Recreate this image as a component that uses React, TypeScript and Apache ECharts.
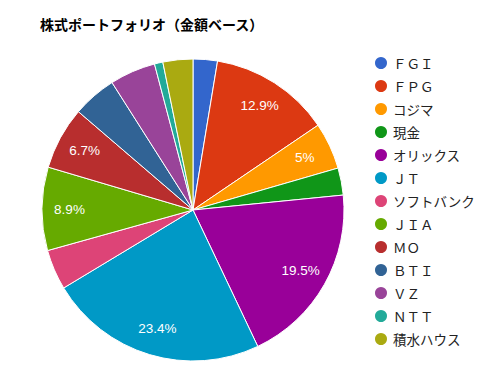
import React, { useEffect, useRef } from "react";
import * as echarts from "echarts";

const titleText = "株式ポートフォリオ（金額ベース）";
const names = ["ＦＧＩ", "ＦＰＧ", "コジマ", "現金", "オリックス", "ＪＴ", "ソフトバンク", "ＪＩＡ", "ＭＯ", "ＢＴＩ", "ＶＺ", "ＮＴＴ", "積水ハウス"];
const values = [2.6, 12.9, 5.0, 2.9, 19.5, 23.4, 4.3, 8.9, 6.7, 4.7, 4.9, 0.9, 3.2];
const colors = ["#3366cc", "#dc3912", "#ff9900", "#109618", "#990099", "#0099c6", "#dd4477", "#66aa00", "#b82e2e", "#316395", "#994499", "#22aa99", "#aaaa11"];

export default function App() {
  const ref = useRef<HTMLDivElement>(null);
  useEffect(() => {
    if (!ref.current) return;
    const chart = echarts.init(ref.current, undefined, { renderer: "svg" });
    const data = names.map((n, i) => ({ name: n, value: values[i], itemStyle: { color: colors[i] } }));
    chart.setOption({
      animation: false,
      title: {
        text: titleText,
        left: 35,
        top: 12,
        textStyle: { fontSize: 14, fontWeight: "bold", color: "#000", fontFamily: "Noto Sans CJK JP" },
      },
      legend: {
        orient: "vertical",
        left: 368,
        top: 50,
        height: 320,
        icon: "circle",
        itemWidth: 14,
        itemHeight: 14,
        itemGap: 7,
        textStyle: { fontSize: 13.5, color: "#222", fontFamily: "Noto Sans CJK JP" },
        data: names,
      },
      series: [
        {
          type: "pie",
          center: [193, 210],
          radius: [0, 151],
          startAngle: 90,
          clockwise: true,
          data,
          label: { show: false },
          labelLine: { show: false },
          itemStyle: { borderColor: "#fff", borderWidth: 1 },
          emphasis: { disabled: true },
        },
        {
          type: "pie",
          center: [193, 210],
          radius: [90, 151],
          startAngle: 90,
          clockwise: true,
          silent: true,
          legendHoverLink: false,
          data: names.map((n, i) => ({ name: n + " ", value: values[i] })),
          itemStyle: { color: "rgba(0,0,0,0)" },
          labelLine: { show: false },
          label: {
            show: true,
            position: "inside",
            color: "#fff",
            fontSize: 13.5,
            fontFamily: "Liberation Sans, Arial",
            formatter: (p: any) => (p.percent >= 5 ? Math.round(p.percent * 10) / 10 + "%" : ""),
          },
        },
      ],
    });
    return () => chart.dispose();
  }, []);
  return <div ref={ref} style={{ width: 498, height: 377, position: "absolute", left: 0, top: 0 }} />;
}
